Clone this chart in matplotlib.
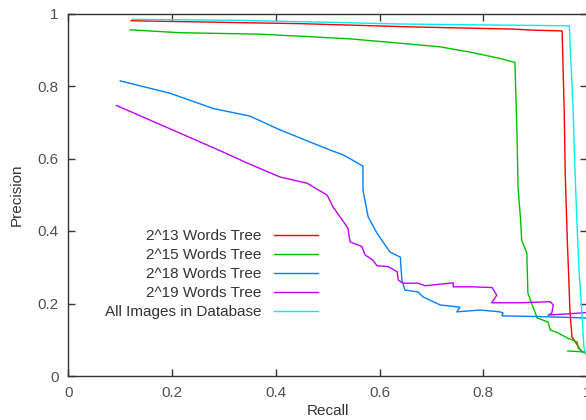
import matplotlib
matplotlib.use("Agg")
import matplotlib.pyplot as plt

# recall / precision
r13 = [0.121, 0.447, 0.663, 0.857, 0.896, 0.952, 0.956, 0.958, 0.962, 0.965, 0.967, 0.971, 0.981, 0.987, 0.993, 1.0]
p13 = [0.980, 0.972, 0.963, 0.957, 0.954, 0.952, 0.734, 0.560, 0.375, 0.265, 0.182, 0.108, 0.086, 0.072, 0.066, 0.062]

r15 = [0.119, 0.215, 0.370, 0.452, 0.543, 0.640, 0.717, 0.780, 0.832, 0.861, 0.865, 0.867, 0.872, 0.874,
       0.884, 0.886, 0.896, 0.904, 0.925, 0.929, 0.944, 0.962, 0.981, 0.983, 0.992, 1.0, 0.963]
p15 = [0.955, 0.947, 0.943, 0.937, 0.930, 0.918, 0.908, 0.892, 0.876, 0.865, 0.670, 0.521, 0.430, 0.375,
       0.339, 0.229, 0.190, 0.160, 0.149, 0.127, 0.119, 0.105, 0.094, 0.077, 0.066, 0.066, 0.069]

r18 = [0.100, 0.196, 0.279, 0.350, 0.408, 0.505, 0.530, 0.568, 0.568, 0.578, 0.595, 0.620, 0.640, 0.643,
       0.649, 0.674, 0.684, 0.717, 0.755, 0.749, 0.794, 0.832, 0.838, 0.836, 0.904, 1.0]
p18 = [0.814, 0.780, 0.738, 0.717, 0.679, 0.623, 0.610, 0.579, 0.513, 0.439, 0.394, 0.342, 0.328, 0.265,
       0.237, 0.232, 0.218, 0.196, 0.190, 0.177, 0.182, 0.177, 0.174, 0.166, 0.164, 0.160]

r19 = [0.093, 0.215, 0.298, 0.344, 0.408, 0.460, 0.499, 0.510, 0.539, 0.543, 0.566, 0.572, 0.587, 0.595,
       0.616, 0.634, 0.636, 0.645, 0.674, 0.688, 0.742, 0.742, 0.780, 0.817, 0.826, 0.816, 0.871, 0.929,
       0.935, 0.932, 0.925, 1.0]
p19 = [0.746, 0.670, 0.618, 0.588, 0.549, 0.532, 0.499, 0.467, 0.408, 0.370, 0.357, 0.334, 0.320, 0.304,
       0.302, 0.288, 0.265, 0.256, 0.256, 0.249, 0.257, 0.246, 0.246, 0.244, 0.223, 0.202, 0.202, 0.205,
       0.196, 0.173, 0.168, 0.175]

rall = [0.123, 0.331, 0.524, 0.640, 0.906, 0.966, 0.967, 0.973, 0.977, 0.981, 0.985, 0.991, 0.994, 0.998]
pall = [0.984, 0.981, 0.975, 0.971, 0.967, 0.966, 0.927, 0.742, 0.560, 0.411, 0.284, 0.154, 0.080, 0.058]

labels = ["2^13 Words Tree", "2^15 Words Tree", "2^18 Words Tree", "2^19 Words Tree", "All Images in Database"]
colors = ["#ff0000", "#00c000", "#0080ff", "#c000ff", "#00eeee"]
xticks = [0, 0.2, 0.4, 0.6, 0.8, 1]
xticklabels = ["0", "0.2", "0.4", "0.6", "0.8", "1"]
yticks = [0, 0.2, 0.4, 0.6, 0.8, 1]
yticklabels = ["0", "0.2", "0.4", "0.6", "0.8", "1"]

plt.rcParams["font.family"] = ["Liberation Sans", "DejaVu Sans"]

fig = plt.figure(figsize=(5.86, 4.2), dpi=100)
ax = fig.add_axes([68.4 / 586, 44 / 420, 518.6 / 586, 362.5 / 420])

series = [(r13, p13), (r15, p15), (r18, p18), (r19, p19), (rall, pall)]
for (r, p), lab, c in zip(series, labels, colors):
    ax.plot(r, p, color=c, lw=1.0, label=lab, clip_on=False)

ax.set_xlim(0, 1)
ax.set_ylim(0, 1)
ax.set_xticks(xticks)
ax.set_xticklabels(xticklabels)
ax.set_yticks(yticks)
ax.set_yticklabels(yticklabels)
ax.tick_params(direction="in", length=5, width=1, top=True, right=True,
               labelsize=11, labelcolor="#505050", color="#333333", pad=7)
for s in ax.spines.values():
    s.set_color("#333333")
    s.set_linewidth(1.0)

ax.set_xlabel("Recall", fontsize=11, color="#333333", labelpad=3)
ax.set_ylabel("Precision", fontsize=11, color="#333333", labelpad=10)

leg = ax.legend(loc="center right", bbox_to_anchor=(0.481, 0.281), frameon=False,
                markerfirst=False, fontsize=11, handlelength=2.9, handletextpad=0.8,
                labelspacing=0.33, borderpad=0, borderaxespad=0)
for t in leg.get_texts():
    t.set_color("#333333")

fig.savefig("out.png", dpi=100)
